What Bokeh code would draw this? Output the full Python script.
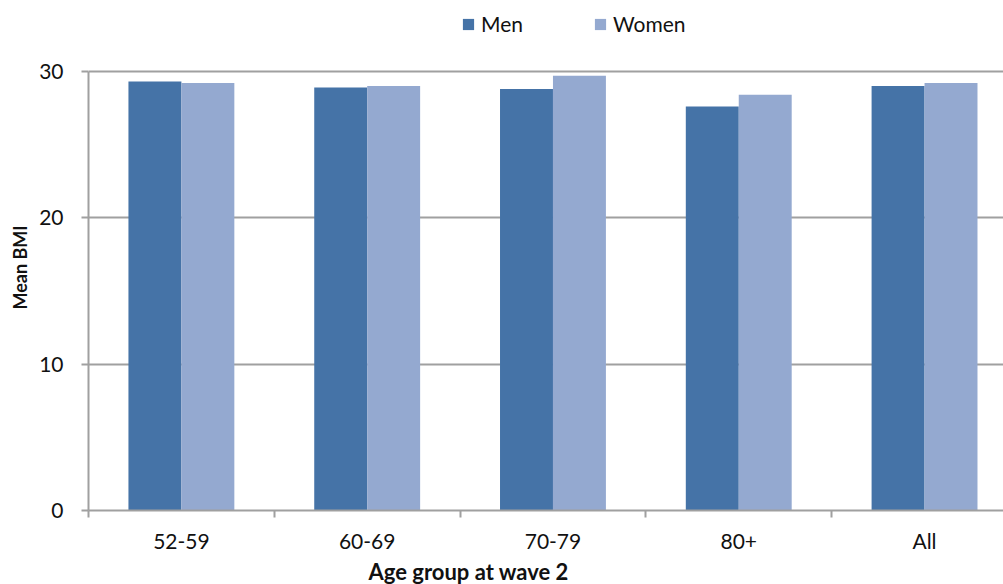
import math
from bokeh.plotting import figure
from bokeh.models import (ColumnDataSource, Range1d, FixedTicker, Legend, LegendItem,
                          Title)
from bokeh.embed import file_html
from bokeh.resources import INLINE

# Mean BMI by age group at wave 2
groups = ["52-59", "60-69", "70-79", "80+", "All"]
men = [29.3, 28.9, 28.8, 27.6, 29.0]
women = [29.2, 29.0, 29.7, 28.4, 29.2]
y_ticks = [0, 10, 20, 30]

MEN_COLOR = "#4573A7"
WOMEN_COLOR = "#94A9D0"
AXIS_GRAY = "#A0A0A0"
FONT = "Lato"

# frame reaches up to the legend row; the value axis itself stops at 30
FRAME_TOP, AXIS_TOP, AXIS_BOTTOM = 8, 71, 511
y_max = y_ticks[-1] * (AXIS_BOTTOM - FRAME_TOP) / (AXIS_BOTTOM - AXIS_TOP)

bar_w = 0.285
idx = list(range(len(groups)))
centers = [i + 0.5 for i in idx]
src = ColumnDataSource(dict(
    men_x=[c - bar_w / 2 for c in centers],
    women_x=[c + bar_w / 2 for c in centers],
    men=men,
    women=women,
))

p = figure(width=1003, height=584, output_backend="svg", toolbar_location=None,
           x_range=Range1d(0, 4.925), y_range=Range1d(0, y_max),
           min_border_left=87, min_border_right=0,
           min_border_top=FRAME_TOP, min_border_bottom=584 - AXIS_BOTTOM)
p.outline_line_color = None
p.background_fill_color = "white"
p.border_fill_color = "white"

r_men = p.vbar(x="men_x", top="men", width=bar_w, source=src,
               fill_color=MEN_COLOR, line_color=None)
r_women = p.vbar(x="women_x", top="women", width=bar_w, source=src,
                 fill_color=WOMEN_COLOR, line_color=None)

# x axis: labels at group centres, tick marks at group boundaries
xa = p.xaxis[0]
xa.ticker = FixedTicker(ticks=centers, minor_ticks=[float(i) for i in range(len(groups) + 1)])
xa.major_label_overrides = {c: g for c, g in zip(centers, groups)}
xa.major_tick_line_color = None
xa.minor_tick_line_color = AXIS_GRAY
xa.minor_tick_line_width = 2
xa.minor_tick_out = 7
xa.minor_tick_in = 0
xa.axis_line_color = AXIS_GRAY
xa.axis_line_width = 2
xa.major_label_text_font = FONT
xa.major_label_text_font_size = "21px"
xa.major_label_text_color = "#111111"
xa.major_label_standoff = 10

ya = p.yaxis[0]
ya.ticker = FixedTicker(ticks=y_ticks)
ya.bounds = (y_ticks[0], y_ticks[-1])
ya.minor_tick_line_color = None
ya.major_tick_line_color = AXIS_GRAY
ya.major_tick_line_width = 2
ya.major_tick_out = 7
ya.major_tick_in = 0
ya.axis_line_color = AXIS_GRAY
ya.axis_line_width = 2
ya.major_label_text_font = FONT
ya.major_label_text_font_size = "21px"
ya.major_label_text_color = "#111111"
ya.major_label_standoff = 18

p.xgrid.grid_line_color = None
p.ygrid.grid_line_color = AXIS_GRAY
p.ygrid.grid_line_width = 2

# axis titles
p.add_layout(Title(text="Age group at wave 2", align="left", offset=280, standoff=0,
                   text_font=FONT, text_font_style="bold", text_font_size="22px",
                   text_color="#111111"), "below")
p.add_layout(Title(text="Mean BMI", align="left", offset=201, standoff=12,
                   text_font=FONT, text_font_style="bold", text_font_size="18px",
                   text_color="#111111"), "left")

legend = Legend(items=[LegendItem(label="Men", renderers=[r_men]),
                       LegendItem(label="Women", renderers=[r_women])],
                orientation="horizontal", location=(373, 474),
                glyph_width=14, glyph_height=14, label_height=24, label_width=112,
                label_standoff=6, spacing=0, padding=0, margin=0,
                border_line_color=None, background_fill_alpha=0,
                label_text_font=FONT, label_text_font_size="21px",
                label_text_color="#111111")
p.add_layout(legend, "center")

open("out.html", "w").write(file_html(p, INLINE))
